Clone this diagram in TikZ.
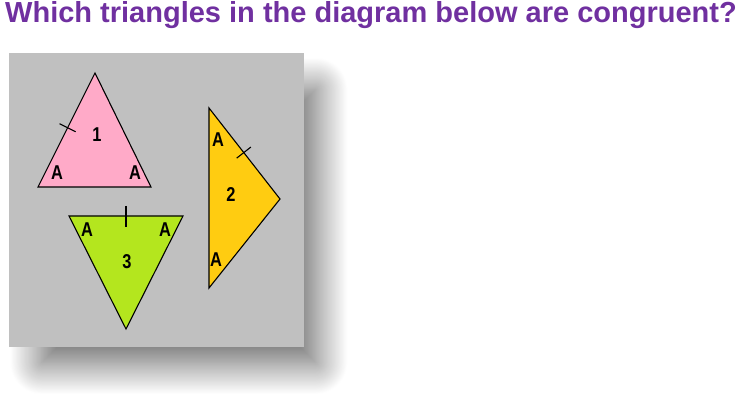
\documentclass[tikz,border=0pt]{standalone}
\usepackage{fontspec}
\setmainfont{Liberation Sans}
\newfontfamily\narrowsans{Liberation Sans}[FakeStretch=0.82]
\usetikzlibrary{calc,shadows.blur}

\definecolor{titlepurple}{RGB}{112,48,160}
\definecolor{panelgray}{RGB}{192,192,192}
\definecolor{pinkfill}{RGB}{255,170,200}
\definecolor{goldfill}{RGB}{255,204,17}
\definecolor{limefill}{RGB}{180,230,30}

\tikzset{
	tri/.style={draw=black, line width=1.1pt, line join=miter},
	lbl/.style={font=\narrowsans\bfseries\fontsize{20}{20}\selectfont, inner sep=0pt},
	tick/.style={draw=black, line width=1.1pt}
}

\begin{document}
\begin{tikzpicture}[x=1pt,y=-1pt]
	\useasboundingbox (0,0) rectangle (739,414);
	%\draw[step=50,color=gray] (0,0) grid (739,414);
	\node[anchor=base west, inner sep=0pt, text=titlepurple, font=\bfseries\fontsize{29}{29}\selectfont] (title) at (5,23) {Which triangles in the diagram below are congruent?};
	% grey panel with its soft shadow
	\fill[panelgray, blur shadow={shadow scale=0.93, shadow xshift=24pt, shadow yshift=-28pt, shadow blur radius=34pt, shadow blur steps=40, shadow opacity=62}] (9,53) rectangle (304,347);
	% triangle 1
	\coordinate (t1a) at (95,73);
	\coordinate (t1b) at (38,187);
	\coordinate (t1c) at (151,187);
	\filldraw[tri, fill=pinkfill] (t1a) -- (t1b) -- (t1c) -- cycle;
	\coordinate (m1) at ($(t1b)!0.52!(t1a)$);
	\draw[tick] ($(m1)!9pt!90:(t1a)$) -- ($(m1)!9pt!-90:(t1a)$);
	\node[lbl] (one) at (97,135) {1};
	\node[lbl] (a1l) at (57,173) {A};
	\node[lbl] (a1r) at (135,173) {A};
	% triangle 2
	\coordinate (t2a) at (209,108);
	\coordinate (t2b) at (280,199);
	\coordinate (t2c) at (209,288);
	\filldraw[tri, fill=goldfill] (t2a) -- (t2b) -- (t2c) -- cycle;
	\coordinate (m2) at ($(t2a)!0.49!(t2b)$);
	\draw[tick] ($(m2)!9pt!90:(t2b)$) -- ($(m2)!9pt!-90:(t2b)$);
	\node[lbl] (two) at (231,195) {2};
	\node[lbl] (a2t) at (218,140) {A};
	\node[lbl] (a2b) at (216,260) {A};
	% triangle 3
	\coordinate (t3a) at (69,216);
	\coordinate (t3b) at (183,216);
	\coordinate (t3c) at (126,329);
	\filldraw[tri, fill=limefill] (t3a) -- (t3b) -- (t3c) -- cycle;
	\coordinate (m3) at ($(t3a)!0.5!(t3b)$);
	\draw[tick] ($(m3)+(0,-10)$) -- ($(m3)+(0,11)$);
	\node[lbl] (three) at (127,262) {3};
	\node[lbl] (a3l) at (87,230) {A};
	\node[lbl] (a3r) at (165,230) {A};
\end{tikzpicture}
\end{document}
